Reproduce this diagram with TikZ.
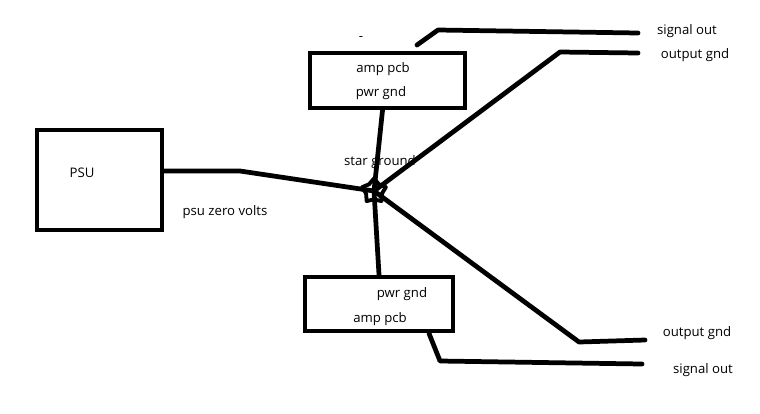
\documentclass[tikz,border=0pt]{standalone}
\usepackage{fontspec}
\setmainfont{Open Sans}
\usetikzlibrary{shapes.geometric}

\begin{document}
\begin{tikzpicture}[x=0.02cm,y=-0.02cm]
\tikzstyle{wire}=[line width=2.7pt, line cap=round, line join=round]
\tikzstyle{label}=[font=\fontsize{7.5}{9}\selectfont, inner sep=0pt]
\useasboundingbox (0,0) rectangle (760,413);

    \node[rectangle,draw, line width=2.7pt, minimum width = 2.5cm,
    minimum height = 2cm] (psu) at (99.5,180) {};
\node [label] (Lpsu) at (82,173) {PSU};
\node [label] (Lzero) at (225,212) {psu zero volts};

 \node[rectangle,draw, line width=2.7pt, minimum width = 3.1cm,
    minimum height = 1.1cm] (amptop) at (387.5,80.5) {};
\node [label] (Ltop1) at (383,69) {amp pcb};
\node [label] (Ltop2) at (381,93) {pwr gnd};
\node [label] (Ldash) at (361,38) {-};

 \node[rectangle,draw, line width=2.7pt, minimum width = 2.96cm,
    minimum height = 1.08cm] (ampbot) at (379,304) {};
\node [label] (Lbot1) at (402,294) {pwr gnd};
\node [label] (Lbot2) at (380,319) {amp pcb};

\node (star) at (374,191) [star, star points=5, draw, line width=2.2pt,
    line join=round, minimum size=0.5cm, inner sep=0pt] {};
\node [label] (Lstar) at (380,162) {star ground};

\node [label] (Lsig1) at (687,31) {signal out};
\node [label] (Lgnd1) at (695,55) {output gnd};
\node [label] (Lgnd2) at (697,333) {output gnd};
\node [label] (Lsig2) at (703,370) {signal out};

\coordinate (b1) at (240,171);
\coordinate (s1) at (417,45);
\coordinate (s2) at (438,30);
\coordinate (s3) at (638,33);
\coordinate (g1) at (560,52);
\coordinate (g2) at (638,53);
\coordinate (g3) at (579,342);
\coordinate (g4) at (645,340);
\coordinate (s4) at (440,361);
\coordinate (s5) at (642,364);

\draw[wire] (psu.east |- b1) -- (b1) -- (star.center);
\draw[wire] ([xshift=-0.1cm]amptop.south) -- (star.center);
\draw[wire] (star.center) -- (ampbot.north);
\draw[wire] (star.center) -- (g1) -- (g2);
\draw[wire] (star.center) -- (g3) -- (g4);
\draw[wire] (s1) -- (s2) -- (s3);
\draw[wire] ([xshift=1cm]ampbot.south) -- (s4) -- (s5);
\end{tikzpicture}
\end{document}
